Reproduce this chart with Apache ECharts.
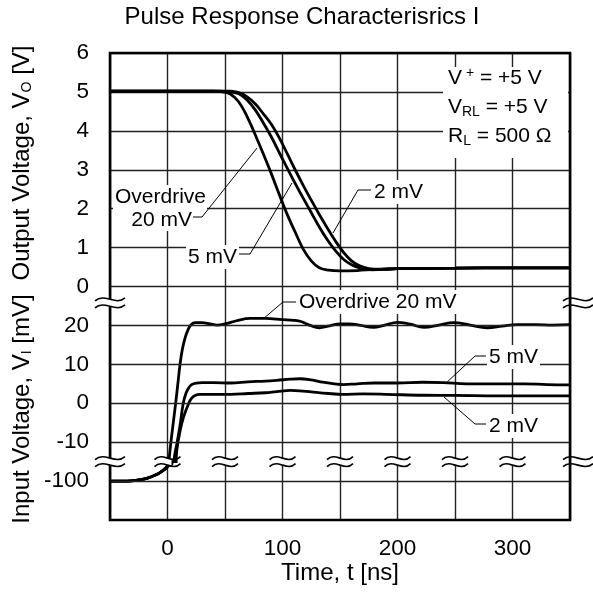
<!DOCTYPE html>
<html>
<head>
<meta charset="utf-8">
<script src="https://cdn.jsdelivr.net/npm/echarts@6/dist/echarts.min.js"></script>
<style>
html, body { margin: 0; padding: 0; background: #fff; }
#main { width: 593px; height: 594px; }
</style>
</head>
<body>
<div id="main"></div>
<script>
// tick labels
var outTicks = [0, 1, 2, 3, 4, 5, 6];
var inTicks = [-10, 0, 10, 20];
var farTicks = [-100];
var timeTicks = [0, 100, 200, 300];

// output voltage [V] against time [ns], one array per overdrive
var out20 = [[-50, 5.02], [40, 5.02], [48, 5.0], [55, 4.94], [62, 4.74], [69, 4.38], [76, 3.92], [83, 3.43],
    [90, 2.92], [97, 2.38], [104, 1.86], [111, 1.4], [118, 0.96], [125, 0.66], [132, 0.48], [140, 0.42],
    [150, 0.4], [165, 0.41], [180, 0.44], [200, 0.46], [250, 0.47], [300, 0.48], [350, 0.48]];
var out5 = [[-50, 5.02], [45, 5.02], [55, 5.0], [62, 4.95], [69, 4.8], [76, 4.55], [83, 4.22], [90, 3.86],
    [97, 3.45], [104, 3.05], [111, 2.65], [118, 2.27], [125, 1.9], [132, 1.53], [139, 1.2], [146, 0.92],
    [153, 0.7], [160, 0.56], [168, 0.47], [178, 0.43], [190, 0.44], [200, 0.46], [250, 0.47], [300, 0.48], [350, 0.48]];
var out2 = [[-50, 5.02], [45, 5.02], [55, 5.02], [62, 4.98], [69, 4.88], [76, 4.7], [83, 4.45], [90, 4.18],
    [97, 3.83], [104, 3.42], [111, 3.0], [118, 2.6], [125, 2.22], [132, 1.85], [139, 1.5], [146, 1.17],
    [153, 0.88], [160, 0.66], [167, 0.53], [175, 0.46], [185, 0.44], [200, 0.46], [250, 0.47], [300, 0.48], [350, 0.48]];

// input voltage [mV] against time [ns]
var in20 = [[-50, -100], [-35, -100], [-25, -99.7], [-18, -99.3], [-10, -98.4], [-5, -97.5], [0, -96.2],
    [1.4, -15], [2.2, -12], [4.6, -6], [7.1, 0], [9, 5], [10.9, 10], [13, 14], [15.5, 17], [18, 19], [20.5, 20.2],
    [24, 20.7], [30, 20.7], [37, 20.4], [43, 20.1], [50, 20.4], [60, 21.2], [72, 21.8], [85, 21.8], [100, 21.5],
    [110, 21.3], [116, 21.0], [124, 20.0], [132, 19.4], [141, 19.9], [150, 20.4], [158, 20.4], [168, 20.0],
    [179, 19.5], [189, 20.1], [200, 20.8], [211, 20.3], [223, 19.5], [236, 20.1], [249, 20.7], [263, 20.1],
    [278, 19.4], [291, 19.8], [304, 20.2], [320, 20.2], [335, 20.1], [350, 20.2]];
var in5 = [[-50, -100], [-35, -100], [-25, -99.7], [-18, -99.3], [-10, -98.4], [-5, -97.5], [0, -96.2],
    [3, -95.6], [5.7, -15], [8.4, -10], [11, -5.5], [13.7, 0], [16, 2.5], [18.5, 4], [21, 4.8], [25, 5.2],
    [30, 5.3], [40, 5.3], [55, 5.2], [70, 5.5], [85, 5.7], [95, 5.9], [107, 6.2], [115, 6.3], [125, 6.0],
    [135, 5.4], [145, 5.0], [153, 4.8], [165, 5.0], [180, 5.2], [200, 5.2], [222, 5.4], [240, 5.3], [260, 5.0],
    [289, 5.0], [310, 5.0], [330, 4.8], [350, 4.7]];
var in2 = [[-50, -100], [-35, -100], [-25, -99.7], [-18, -99.3], [-10, -98.4], [-5, -97.5], [0, -96.2],
    [4, -95.5], [7.5, -15], [8.1, -12], [11, -7], [14, -3.5], [18.5, 0], [21, 1.3], [24, 2.0], [28, 2.3],
    [40, 2.3], [55, 2.3], [70, 2.5], [85, 2.7], [95, 3.0], [107, 3.3], [115, 3.2], [125, 2.9], [140, 2.5],
    [153, 2.3], [170, 2.4], [190, 2.3], [222, 2.05], [250, 2.0], [289, 1.9], [320, 1.9], [350, 1.9]];

var FONT = '"Liberation Sans", Arial, Helvetica, sans-serif';
var L = 110, W = 460, T = 53, H = 467, row = H / 12;
var gridLine = { color: '#222', width: 1.4 };

var myChart = echarts.init(document.getElementById('main'));

function xAx(i) {
    return {
        type: 'value', gridIndex: i, min: -50, max: 350, interval: 50,
        axisLine: { show: false }, axisTick: { show: false },
        axisLabel: i == 2 ? {
            color: '#000', fontSize: 22.5, fontFamily: FONT, margin: 17,
            formatter: function (v) { return timeTicks.indexOf(v) >= 0 ? String(v) : ''; }
        } : { show: false },
        splitLine: { show: true, lineStyle: gridLine },
        name: i == 2 ? 'Time, t [ns]' : '',
        nameLocation: 'middle', nameGap: 35,
        nameTextStyle: { color: '#000', fontSize: 24, fontFamily: FONT }
    };
}

function yAx(i, min, max, interval, ticks, split) {
    return {
        type: 'value', gridIndex: i, min: min, max: max, interval: interval,
        axisLine: { show: false }, axisTick: { show: false },
        axisLabel: {
            color: '#000', fontSize: 22.5, fontFamily: FONT, margin: 21,
            formatter: function (v) { return ticks.indexOf(v) >= 0 ? String(v) : ''; }
        },
        splitLine: { show: split, lineStyle: gridLine }
    };
}

function line(data, i, extra) {
    var s = {
        type: 'line', xAxisIndex: i, yAxisIndex: i, data: data,
        symbol: 'none', showSymbol: false, smooth: 0.4,
        clip: true, silent: true, z: 3,
        lineStyle: { color: '#000', width: 2.8 }
    };
    return Object.assign(s, extra || {});
}

function gridMarks(ticks) {
    return {
        markLine: {
            silent: true, symbol: ['none', 'none'], label: { show: false },
            lineStyle: { color: '#222', width: 1.4, type: 'solid' },
            data: ticks.map(function (v) { return { yAxis: v }; })
        }
    };
}

option = {
    backgroundColor: '#fff',
    animation: false,
    grid: [
        { left: L, width: W, top: T, height: row * 6 },
        { left: L, width: W, top: T + row * 6, height: row * 4.5 },
        { left: L, width: W, top: T + row * 10.5, height: row * 1.5 }
    ],
    xAxis: [xAx(0), xAx(1), xAx(2)],
    yAxis: [
        yAx(0, 0, 6, 1, outTicks, true),
        yAx(1, -15, 30, 5, inTicks, false),
        yAx(2, -110, -95, 5, farTicks, false)
    ],
    series: [
        line(out20, 0), line(out5, 0), line(out2, 0),
        line(in20, 1, gridMarks(inTicks)), line(in5, 1), line(in2, 1),
        line(in20, 2, gridMarks(farTicks)), line(in5, 2), line(in2, 2)
    ]
};
myChart.setOption(option);

// decorations: frame, axis break marks, notes
var RICH = {
    sub: { fontSize: 14, fontFamily: FONT, lineHeight: 9, verticalAlign: 'bottom' },
    sup: { fontSize: 14, fontFamily: FONT, lineHeight: 8, verticalAlign: 'top' }
};

function text(x, y, str, opt) {
    opt = opt || {};
    var st = {
        text: str, fontSize: opt.size || 21, fontFamily: FONT, fill: '#000',
        align: opt.align || 'left', textAlign: opt.align || 'left',
        verticalAlign: 'middle', textVerticalAlign: 'middle',
        lineHeight: 24, rich: RICH
    };
    if (opt.bg) { st.backgroundColor = '#fff'; st.padding = [0, 2, 0, 2]; }
    return { type: 'text', x: x, y: y, rotation: opt.rot || 0, z: 120, style: st };
}

function leader(pts) {
    return { type: 'polyline', z: 115, shape: { points: pts }, style: { stroke: '#000', lineWidth: 1, fill: null } };
}

function breakMark(cx, cy, w) {
    var h = w / 2, d = 3.5;
    var els = [{ type: 'rect', z: 110, shape: { x: cx - 4, y: cy - d, width: 8, height: 2 * d }, style: { fill: '#fff' } }];
    [-d, d].forEach(function (o) {
        els.push({
            type: 'bezierCurve', z: 111,
            shape: { x1: cx - h, y1: cy + o + 1.5, cpx1: cx - h * 0.35, cpy1: cy + o - 7, cpx2: cx + h * 0.35, cpy2: cy + o + 7, x2: cx + h, y2: cy + o - 1.5 },
            style: { stroke: '#000', lineWidth: 1.6, fill: null }
        });
    });
    return els;
}

var g = [];
g.push({ type: 'rect', z: 100, shape: { x: L, y: T, width: W, height: H }, style: { fill: 'none', stroke: '#000', lineWidth: 2.6 } });

var yLow = myChart.convertToPixel({ yAxisIndex: 2 }, -95);
var yHigh = myChart.convertToPixel({ yAxisIndex: 1 }, 25.8);
for (var t = -50; t <= 350; t += 50) {
    var px = myChart.convertToPixel({ xAxisIndex: 2 }, t);
    var edge = (t == -50 || t == 350);
    var cx = t == 350 ? px + 8 : px;
    g = g.concat(breakMark(cx, yLow, edge ? 30 : 26));
    if (edge) g = g.concat(breakMark(cx, yHigh, 30));
}

// title and axis names
g.push(text(302, 17, 'Pulse Response Characterisrics I', { size: 24, align: 'center' }));
g.push(text(22, 163, 'Output Voltage, V{sub|O} [V]', { size: 24, align: 'center', rot: Math.PI / 2 }));
g.push(text(22, 409, 'Input Voltage, V{sub|I} [mV]', { size: 24, align: 'center', rot: Math.PI / 2 }));

// notes in the output panel
g.push({ type: 'rect', z: 112, shape: { x: 113, y: 185, width: 94, height: 46 }, style: { fill: '#fff' } });
g.push(text(115, 197, 'Overdrive'));
g.push(text(192, 220, '20 mV', { align: 'right' }));
g.push(leader([[193, 217], [202, 217], [257, 148]]));
g.push(text(186, 257, '5 mV', { bg: true }));
g.push(leader([[236, 254], [250, 254], [292, 183]]));
g.push(text(372, 192, '2 mV', { bg: true }));
g.push(leader([[333, 233], [358, 190], [371, 190]]));

g.push({ type: 'rect', z: 112, shape: { x: 443, y: 67, width: 125, height: 91 }, style: { fill: '#fff' } });
g.push(text(448, 78, 'V{sup| +} = +5 V'));
g.push(text(448, 107, 'V{sub|RL} = +5 V'));
g.push(text(448, 136, 'R{sub|L} = 500 Ω'));

// notes in the input panel
g.push(text(297, 302, 'Overdrive 20 mV', { bg: true }));
g.push(leader([[263, 319], [283, 302], [296, 302]]));
g.push(text(487, 357, '5 mV', { bg: true }));
g.push(leader([[445, 384], [475, 356], [486, 356]]));
g.push(text(487, 426, '2 mV', { bg: true }));
g.push(leader([[444, 397], [475, 424], [486, 424]]));

myChart.setOption({ graphic: { elements: g } });
</script>
</body>
</html>
